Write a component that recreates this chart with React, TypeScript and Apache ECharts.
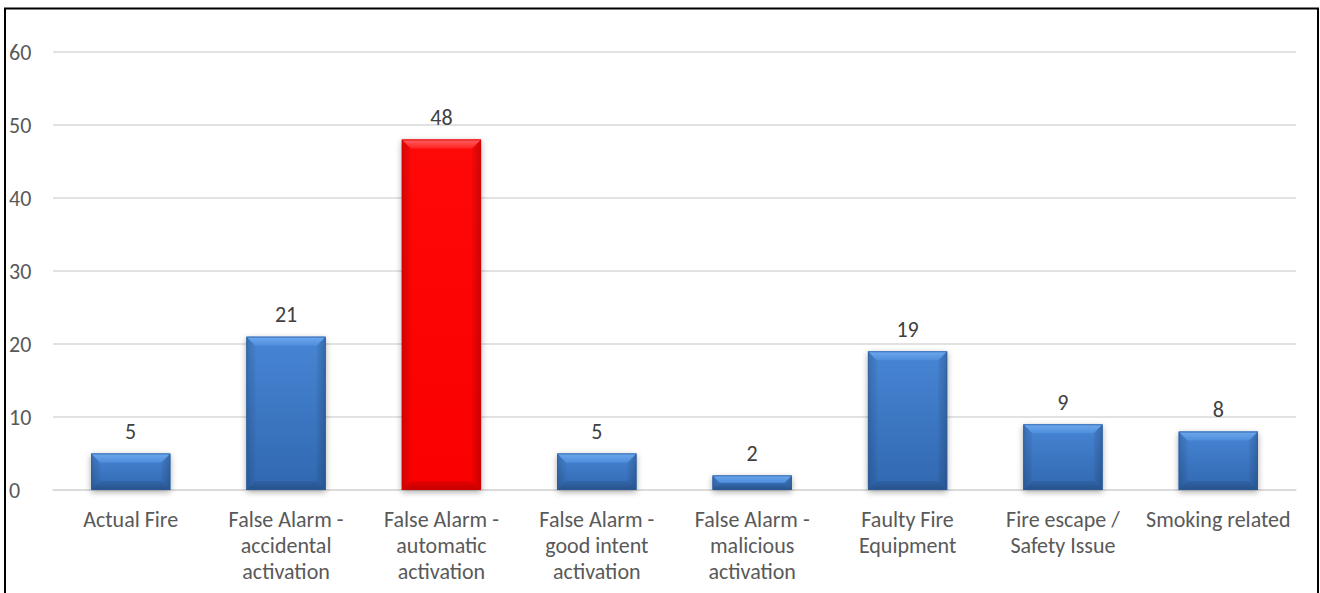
import React, { useEffect, useRef } from "react";
import * as echarts from "echarts";

const categories = [
  "Actual Fire",
  "False Alarm -\naccidental\nactivation",
  "False Alarm -\nautomatic\nactivation",
  "False Alarm -\ngood intent\nactivation",
  "False Alarm -\nmalicious\nactivation",
  "Faulty Fire\nEquipment",
  "Fire escape /\nSafety Issue",
  "Smoking related",
];
const counts = [5, 21, 48, 5, 2, 19, 9, 8];
const highlightIndex = 2;
const yTicks = { min: 0, max: 60, interval: 10 };

const FONT = "Carlito, Lato, 'Open Sans', sans-serif";
const FONT_SIZE = 22;

const palettes = {
  blue: {
    top: "#4785d4",
    bottom: "#3168b0",
    capTop: "#6ea9ee",
    capBottom: "#4f8edc",
    edge: "#2d5e9c",
  },
  red: {
    top: "#ff0808",
    bottom: "#fa0000",
    capTop: "#ff6060",
    capBottom: "#ff2222",
    edge: "#d40000",
  },
};

export default function App() {
  const ref = useRef<HTMLDivElement>(null);

  useEffect(() => {
    if (!ref.current) return;
    const chart = echarts.init(ref.current, undefined, { renderer: "svg" });

    // Bevelled column: body, light top facet, faint side facets, shaded base
    const renderItem = (params: any, api: any) => {
      const idx = api.value(0);
      const val = api.value(1);
      const top = api.coord([idx, val]);
      const base = api.coord([idx, 0]);
      const band = api.size([1, 0])[0];
      const w = band * 0.51;
      const x0 = top[0] - w / 2;
      const x1 = top[0] + w / 2;
      const y0 = top[1];
      const y1 = base[1];
      const h = y1 - y0;
      const b = Math.min(9, h / 2);
      const p = idx === highlightIndex ? palettes.red : palettes.blue;

      return {
        type: "group",
        children: [
          {
            type: "rect",
            shape: { x: x0, y: y0, width: w, height: h },
            style: {
              fill: p.bottom,
              shadowBlur: 6,
              shadowOffsetX: 0,
              shadowOffsetY: 2,
              shadowColor: "rgba(0,0,0,0.35)",
            },
          },
          {
            type: "rect",
            shape: { x: x0, y: y0, width: w, height: h },
            style: {
              fill: new echarts.graphic.LinearGradient(0, 0, 0, 1, [
                { offset: 0, color: p.top },
                { offset: 1, color: p.bottom },
              ]),
            },
          },
          {
            type: "polygon",
            shape: {
              points: [
                [x0, y0],
                [x0 + b, y0 + b],
                [x0 + b, y1 - b],
                [x0, y1],
              ],
            },
            style: {
              fill: new echarts.graphic.LinearGradient(0, 0, 1, 0, [
                { offset: 0, color: "rgba(0,0,0,0.16)" },
                { offset: 1, color: "rgba(0,0,0,0.03)" },
              ]),
            },
          },
          {
            type: "polygon",
            shape: {
              points: [
                [x1, y0],
                [x1 - b, y0 + b],
                [x1 - b, y1 - b],
                [x1, y1],
              ],
            },
            style: {
              fill: new echarts.graphic.LinearGradient(1, 0, 0, 0, [
                { offset: 0, color: "rgba(0,0,0,0.2)" },
                { offset: 1, color: "rgba(0,0,0,0.04)" },
              ]),
            },
          },
          {
            type: "polygon",
            shape: {
              points: [
                [x0, y1],
                [x0 + b, y1 - b],
                [x1 - b, y1 - b],
                [x1, y1],
              ],
            },
            style: {
              fill: new echarts.graphic.LinearGradient(0, 0, 0, 1, [
                { offset: 0, color: "rgba(0,0,0,0.08)" },
                { offset: 1, color: "rgba(0,0,0,0.22)" },
              ]),
            },
          },
          {
            type: "polygon",
            shape: {
              points: [
                [x0, y0],
                [x1, y0],
                [x1 - b, y0 + b],
                [x0 + b, y0 + b],
              ],
            },
            style: {
              fill: new echarts.graphic.LinearGradient(0, 0, 0, 1, [
                { offset: 0, color: p.capTop },
                { offset: 1, color: p.capBottom },
              ]),
            },
          },
          {
            type: "rect",
            shape: { x: x0 + 0.5, y: y0 + 0.5, width: w - 1, height: h - 1 },
            style: { fill: "none", stroke: p.edge, lineWidth: 1, opacity: 0.7 },
          },
          {
            type: "text",
            style: {
              x: top[0],
              y: y0 - 11,
              text: String(val),
              align: "center",
              verticalAlign: "bottom",
              fill: "#404040",
              font: `${FONT_SIZE}px ${FONT}`,
            },
          },
        ],
      };
    };

    chart.setOption({
      animation: false,
      backgroundColor: "#ffffff",
      graphic: [
        {
          type: "rect",
          shape: { x: 5, y: 8.5, width: 1313, height: 600 },
          style: { fill: "none", stroke: "#000000", lineWidth: 2 },
          silent: true,
          z: 100,
        },
      ],
      grid: { left: 53, right: 24, top: 52, bottom: 103 },
      xAxis: {
        type: "category",
        data: categories,
        axisTick: { show: false },
        axisLine: { show: true, lineStyle: { color: "#d9d9d9", width: 1.5 } },
        axisLabel: {
          interval: 0,
          margin: 16,
          color: "#595959",
          fontFamily: FONT,
          fontSize: FONT_SIZE,
          lineHeight: 26,
        },
      },
      yAxis: {
        type: "value",
        min: yTicks.min,
        max: yTicks.max,
        interval: yTicks.interval,
        axisLine: { show: false },
        axisTick: { show: false },
        splitLine: { lineStyle: { color: "#d9d9d9", width: 1.5 } },
        axisLabel: {
          align: "left",
          margin: 44,
          color: "#595959",
          fontFamily: FONT,
          fontSize: FONT_SIZE,
        },
      },
      series: [
        {
          type: "custom",
          renderItem,
          data: counts.map((v, i) => [i, v]),
          clip: false,
        },
      ],
    });

    return () => chart.dispose();
  }, []);

  return (
    <div
      ref={ref}
      style={{ position: "fixed", left: 0, top: 0, width: 1320, height: 593 }}
    />
  );
}
